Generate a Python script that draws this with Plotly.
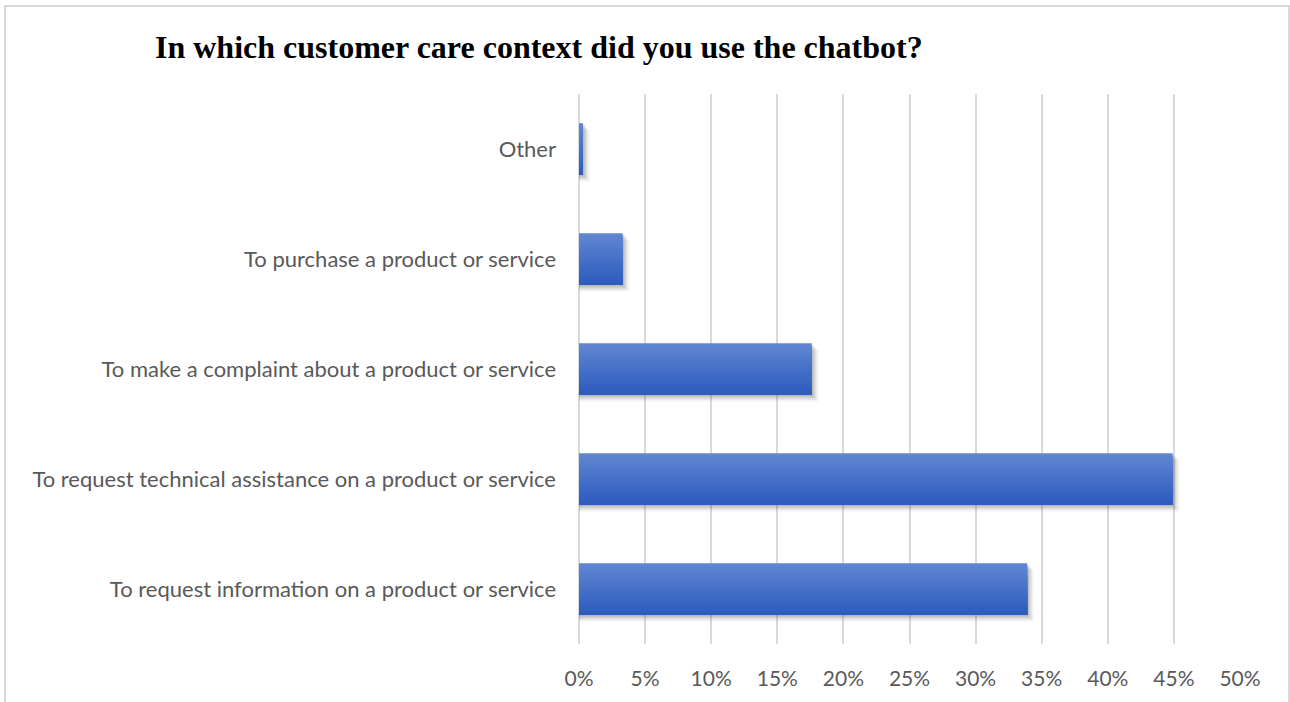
import plotly.graph_objects as go

# Survey answers, bottom to top as drawn
categories = [
    "To request information on a product or service",
    "To request technical assistance on a product or service",
    "To make a complaint about a product or service",
    "To purchase a product or service",
    "Other",
]
shares = [33.9, 44.9, 17.6, 3.3, 0.3]
tick_values = [0, 5, 10, 15, 20, 25, 30, 35, 40, 45, 50]
tick_labels = [f"{v}%" for v in tick_values]

title_text = "In which customer care context did you use the chatbot?"

W, H = 1290, 702
L, R, T, B = 579, 50, 94, 58

fig = go.Figure()

bar_w = 0.47
# soft drop shadow behind each bar
for dx, dy, a in [(0.50, 0.06, 0.07), (0.36, 0.045, 0.10), (0.24, 0.03, 0.14), (0.12, 0.015, 0.18)]:
    fig.add_trace(go.Bar(
        y=categories, x=[s + dx for s in shares], orientation="h",
        width=bar_w, offset=-bar_w / 2 - dy,
        marker=dict(color=f"rgba(90,90,90,{a})", line=dict(width=0)),
        hoverinfo="skip", showlegend=False,
    ))

# vertical gradient: lighter at the top edge, darker at the bottom
n = 24
top = (96, 134, 210)
bot = (45, 92, 190)
strip = bar_w / n
for i in range(n):
    t = i / (n - 1)
    c = tuple(round(top[j] + (bot[j] - top[j]) * t) for j in range(3))
    # each strip reaches down to the bar's bottom edge so no seams show
    fig.add_trace(go.Bar(
        y=categories, x=shares, orientation="h",
        width=bar_w - i * strip, offset=-bar_w / 2,
        marker=dict(color=f"rgb{c}", line=dict(width=0)),
        hovertemplate="%{y}: %{x}%<extra></extra>", showlegend=False,
    ))

fig.update_layout(
    width=W, height=H,
    margin=dict(l=L, r=R, t=T, b=B, pad=0),
    paper_bgcolor="white", plot_bgcolor="white",
    barmode="overlay",
    title=dict(
        text=title_text, xref="container", yref="container",
        x=155 / W, xanchor="left", y=1 - 47 / H, yanchor="middle",
        font=dict(family="Liberation Serif", size=32, color="black", weight="bold"),
    ),
    xaxis=dict(
        range=[0, 50], tickvals=tick_values, ticktext=tick_labels,
        showgrid=True, gridcolor="#d9d9d9", gridwidth=2,
        zeroline=True, zerolinecolor="#d9d9d9", zerolinewidth=2,
        showline=False, ticks="",
        ticklabelstandoff=20,
        tickfont=dict(family="Lato", size=21, color="#595959"),
    ),
    yaxis=dict(
        categoryorder="array", categoryarray=categories,
        showgrid=False, zeroline=False, showline=False, ticks="",
        ticklabelstandoff=22,
        tickfont=dict(family="Lato", size=22, color="#595959"),
    ),
    shapes=[dict(
        type="rect", xref="paper", yref="paper",
        x0=(5 - L) / (W - L - R), x1=(1289 - L) / (W - L - R),
        y0=-0.2, y1=(H - B - 6) / (H - T - B),
        line=dict(color="#d9d9d9", width=2), fillcolor="rgba(0,0,0,0)", layer="below",
    )],
)

fig.write_html("out.html")
